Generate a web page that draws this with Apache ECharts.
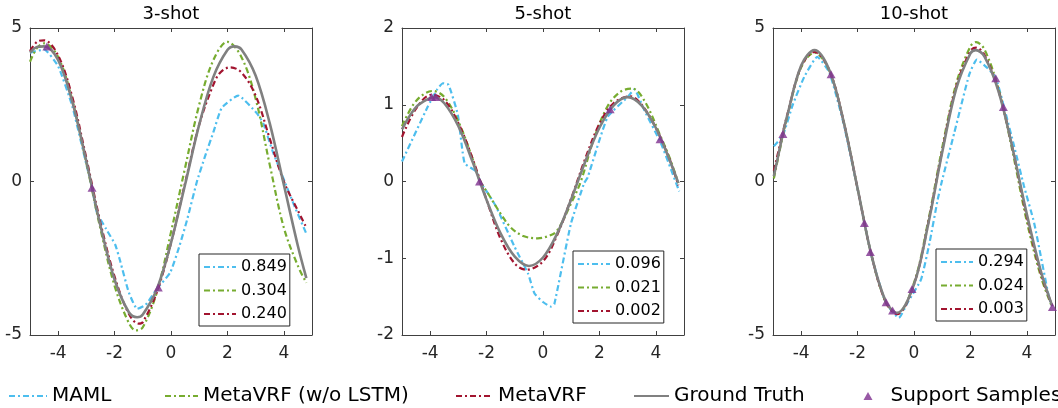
<!DOCTYPE html>
<html>
<head>
<meta charset="utf-8">
<script src="https://cdn.jsdelivr.net/npm/echarts@6/dist/echarts.min.js"></script>
<style>
html,body{margin:0;padding:0;background:#fff;}
#chart{width:1058px;height:408px;}
</style>
</head>
<body>
<div id="chart"></div>
<script>
// ---------- data ----------
const panelTitles = ['3-shot', '5-shot', '10-shot'];
const seriesNames = ['MAML', 'MetaVRF (w/o LSTM)', 'MetaVRF', 'Ground Truth', 'Support Samples'];
const xTicks = [-4, -2, 0, 2, 4];
const yTicksA = [-5, 0, 5];
const yTicksB = [-2, -1, 0, 1, 2];
const mse3 = ['0.849', '0.304', '0.240'];
const mse5 = ['0.096', '0.021', '0.002'];
const mse10 = ['0.294', '0.024', '0.003'];

// 3-shot
const s3_maml = [[-5.0,4.2],[-4.5,4.3],[-4.0,3.75],[-3.5,2.45],[-3.0,0.55],[-2.8,-0.2],[-2.63,-1.0],[-2.3,-1.55],[-1.98,-2.05],[-1.8,-2.6],[-1.5,-3.6],[-1.2,-4.15],[-0.9,-4.02],[-0.5,-3.5],[-0.03,-2.97],[0.3,-2.1],[0.57,-1.25],[0.92,0.0],[1.2,0.8],[1.5,1.6],[1.8,2.4],[2.38,2.8],[3.03,2.24],[3.27,1.9],[3.6,1.0],[4.03,0.0],[4.4,-0.85],[4.8,-1.7]];
const s3_noLstm = [[-5.0,3.9],[-4.75,4.35],[-4.5,4.5],[-4.0,4.05],[-3.5,2.65],[-3.0,0.6],[-2.5,-1.55],[-2.0,-3.4],[-1.5,-4.6],[-1.25,-4.85],[-1.0,-4.75],[-0.5,-3.6],[0,-1.65],[0.5,0.45],[1.0,2.5],[1.5,3.95],[2.0,4.55],[2.5,4.05],[3.0,2.7],[3.5,0.55],[4.0,-1.5],[4.5,-2.75],[4.8,-3.3]];
const s3_vrf = [[-5.0,4.25],[-4.75,4.55],[-4.5,4.6],[-4.0,4.1],[-3.5,2.75],[-3.0,0.75],[-2.5,-1.35],[-2.0,-3.1],[-1.5,-4.3],[-1.15,-4.63],[-1.0,-4.58],[-0.5,-3.6],[0,-2.0],[0.5,-0.05],[1.0,1.85],[1.5,3.15],[1.75,3.55],[2.1,3.72],[2.5,3.55],[3.0,2.8],[3.5,1.4],[4.0,0.0],[4.5,-0.95],[4.8,-1.5]];
const s3_gt = [[-5.0,4.2],[-4.75,4.38],[-4.5,4.4],[-4.0,3.95],[-3.5,2.6],[-3.0,0.65],[-2.5,-1.45],[-2.0,-3.2],[-1.5,-4.25],[-1.2,-4.42],[-1.0,-4.33],[-0.5,-3.5],[0,-2.0],[0.5,-0.1],[1.0,1.85],[1.5,3.4],[2.0,4.28],[2.25,4.4],[2.5,4.3],[3.0,3.45],[3.5,1.9],[4.0,-0.1],[4.5,-2.1],[4.8,-3.15]];
const s3_support = [[-4.4,4.4],[-2.8,-0.2],[-0.45,-3.45]];

// 5-shot
const s5_maml = [[-5.0,0.26],[-4.08,0.98],[-3.75,1.2],[-3.55,1.28],[-3.35,1.26],[-3.02,0.87],[-2.78,0.24],[-2.37,0.13],[-2.2,-0.02],[-1.96,-0.15],[-1.66,-0.33],[-1.01,-0.85],[-0.53,-1.2],[-0.3,-1.46],[0.0,-1.57],[0.28,-1.63],[0.4,-1.6],[0.99,-0.55],[1.46,-0.02],[1.58,0.05],[2.29,0.84],[3.0,1.1],[3.24,1.2],[3.59,0.93],[4.18,0.5],[4.83,-0.13]];
const s5_noLstm = [[-5.0,0.72],[-4.5,1.05],[-3.9,1.18],[-3.5,1.1],[-3.0,0.78],[-2.5,0.3],[-2.25,0.02],[-1.96,-0.15],[-1.5,-0.42],[-1.14,-0.6],[-0.7,-0.71],[-0.19,-0.74],[0.2,-0.71],[0.5,-0.64],[0.99,-0.29],[1.34,0.0],[1.8,0.55],[2.29,0.98],[2.75,1.17],[3.17,1.21],[3.6,1.05],[4.18,0.58],[4.5,0.3],[4.8,-0.02]];
const s5_vrf = [[-5.0,0.58],[-4.5,0.95],[-3.96,1.13],[-3.5,1.06],[-3.0,0.76],[-2.5,0.3],[-2.0,-0.24],[-1.5,-0.75],[-1.0,-1.07],[-0.6,-1.15],[0,-1.04],[0.5,-0.7],[1.0,-0.22],[1.5,0.3],[2.0,0.75],[2.5,1.02],[3.1,1.11],[3.5,1.0],[4.0,0.7],[4.5,0.28],[4.8,-0.05]];
const s5_gt = [[-5.0,0.68],[-4.5,0.97],[-4.0,1.09],[-3.85,1.1],[-3.5,1.02],[-3.0,0.72],[-2.5,0.26],[-2.0,-0.24],[-1.5,-0.68],[-1.0,-0.98],[-0.5,-1.1],[0,-0.99],[0.5,-0.68],[1.0,-0.23],[1.5,0.26],[2.0,0.7],[2.5,0.99],[3.0,1.1],[3.5,0.99],[4.0,0.7],[4.5,0.27],[4.8,-0.02]];
const s5_support = [[-3.95,1.1],[-3.8,1.1],[-2.25,0.0],[2.38,0.94],[4.15,0.55]];

// 10-shot
const s10_maml = [[-4.97,1.15],[-4.65,1.5],[-4.3,2.5],[-3.88,3.43],[-3.43,4.06],[-3.0,3.55],[-2.5,1.9],[-2.0,-0.25],[-1.5,-2.45],[-1.0,-3.95],[-0.54,-4.44],[-0.2,-3.9],[0.25,-3.19],[0.55,-2.0],[0.84,-0.59],[1.0,0.05],[1.43,1.59],[1.96,3.49],[2.23,3.97],[2.6,3.7],[2.9,3.38],[3.2,2.4],[3.55,1.15],[3.9,-0.15],[4.26,-1.35],[4.79,-3.79],[4.9,-4.06]];
const s10_noLstm = [[-4.97,0.1],[-4.65,1.5],[-4.5,2.1],[-4.0,3.72],[-3.53,4.2],[-3.0,3.6],[-2.5,1.97],[-2.0,-0.23],[-1.5,-2.43],[-1.0,-3.93],[-0.6,-4.3],[0,-3.3],[0.5,-1.3],[1.0,1.1],[1.5,3.2],[2.0,4.4],[2.2,4.54],[2.5,4.3],[3.0,3.0],[3.5,0.95],[4.0,-1.3],[4.5,-3.1],[4.9,-4.1]];
const s10_vrf = [[-4.97,0.35],[-4.65,1.6],[-4.5,2.15],[-4.0,3.75],[-3.53,4.22],[-3.0,3.62],[-2.5,1.97],[-2.0,-0.23],[-1.5,-2.43],[-1.0,-3.93],[-0.6,-4.32],[0,-3.35],[0.5,-1.38],[1.0,1.0],[1.5,3.1],[2.0,4.25],[2.2,4.36],[2.5,4.12],[3.0,2.95],[3.5,1.05],[4.0,-1.15],[4.5,-3.0],[4.9,-4.05]];
const s10_gt = [[-4.97,0.17],[-4.65,1.55],[-4.5,2.13],[-4.0,3.78],[-3.53,4.28],[-3.0,3.62],[-2.5,1.97],[-2.0,-0.23],[-1.5,-2.43],[-1.0,-3.91],[-0.6,-4.28],[0,-3.35],[0.5,-1.41],[1.0,0.95],[1.5,3.03],[2.0,4.17],[2.19,4.28],[2.5,4.07],[3.0,2.93],[3.5,1.06],[4.0,-1.06],[4.5,-2.93],[4.9,-4.05]];
const s10_support = [[-4.65,1.55],[-2.94,3.49],[-1.76,-1.35],[-1.55,-2.3],[-0.99,-3.93],[-0.76,-4.2],[-0.07,-3.5],[2.9,3.36],[3.17,2.43],[4.91,-4.09]];

// ---------- styling / layout ----------
const FONT = 'DejaVu Sans';
const AX = '#404040';
const TXT = '#262626';
const colors = ['#4DBEEE', '#77AC30', '#A2142F', '#808080', '#7E2F8E'];
const dashDot = [6, 3, 2, 3];
const gridLefts = [30, 402, 773];
const GW = 282, GT = 28, GH = 307;
const hiddenSym = {color: 'rgba(0,0,0,0)', borderColor: 'rgba(0,0,0,0)', borderWidth: 0, opacity: 0};

const panels = [
  {maml: s3_maml, noLstm: s3_noLstm, vrf: s3_vrf, gt: s3_gt, sup: s3_support, y: [-5, 5, 5], mse: mse3, box: [199, 254]},
  {maml: s5_maml, noLstm: s5_noLstm, vrf: s5_vrf, gt: s5_gt, sup: s5_support, y: [-2, 2, 1], mse: mse5, box: [573, 251]},
  {maml: s10_maml, noLstm: s10_noLstm, vrf: s10_vrf, gt: s10_gt, sup: s10_support, y: [-5, 5, 5], mse: mse10, box: [936, 249]}
];

const grid = [], xAxis = [], yAxis = [], series = [], title = [], legend = [];
const lineAxis = {show: true, onZero: false, lineStyle: {color: AX, width: 1}};
panels.forEach((p, i) => {
  grid.push({left: gridLefts[i], top: GT, width: GW, height: GH, containLabel: false});
  const tick = {show: true, inside: true, length: 4, lineStyle: {color: AX, width: 1}};
  xAxis.push({type: 'value', gridIndex: i, min: -5, max: 5, position: 'bottom',
    axisLine: lineAxis, splitLine: {show: false},
    axisTick: Object.assign({customValues: xTicks}, tick),
    axisLabel: {customValues: xTicks, fontFamily: FONT, fontSize: 17, color: TXT, margin: 10}});
  xAxis.push({type: 'value', gridIndex: i, min: -5, max: 5, position: 'top',
    axisLine: lineAxis, splitLine: {show: false},
    axisTick: Object.assign({customValues: xTicks}, tick),
    axisLabel: {show: false}});
  yAxis.push({type: 'value', gridIndex: i, min: p.y[0], max: p.y[1], interval: p.y[2], position: 'left',
    axisLine: lineAxis, splitLine: {show: false}, axisTick: tick,
    axisLabel: {fontFamily: FONT, fontSize: 17, color: TXT, margin: 8}});
  yAxis.push({type: 'value', gridIndex: i, min: p.y[0], max: p.y[1], interval: p.y[2], position: 'right',
    axisLine: lineAxis, splitLine: {show: false}, axisTick: tick,
    axisLabel: {show: false}});

  const xi = 2 * i, yi = 2 * i;
  const curves = [p.maml, p.noLstm, p.vrf];
  curves.forEach((d, k) => {
    series.push({type: 'line', name: seriesNames[k], xAxisIndex: xi, yAxisIndex: yi, data: d,
      symbol: 'none', smooth: k === 0 ? 0.15 : 0.35, z: 2 + k,
      lineStyle: {color: colors[k], width: 2.2, type: dashDot}, itemStyle: {color: colors[k]}});
  });
  series.push({type: 'line', name: seriesNames[3], xAxisIndex: xi, yAxisIndex: yi, data: p.gt,
    symbol: 'none', smooth: 0.35, z: 6,
    lineStyle: {color: colors[3], width: 2.6, type: 'solid'}, itemStyle: {color: colors[3]}});
  series.push({type: 'scatter', name: seriesNames[4], xAxisIndex: xi, yAxisIndex: yi, data: p.sup,
    symbol: 'triangle', symbolSize: [9, 8], z: 8, itemStyle: {color: colors[4]}});

  title.push({text: panelTitles[i], left: gridLefts[i] + GW / 2, top: 5, textAlign: 'center', padding: 0,
    textStyle: {fontFamily: FONT, fontSize: 18, fontWeight: 'normal', color: '#000', lineHeight: 18}});

  const mse = p.mse;
  legend.push({orient: 'vertical', left: p.box[0], top: p.box[1], padding: [5, 3, 4, 4],
    itemWidth: 32, itemHeight: 12, itemGap: 7.5, selectedMode: false,
    backgroundColor: '#fff', borderColor: '#262626', borderWidth: 1, z: 20,
    itemStyle: hiddenSym,
    data: seriesNames.slice(0, 3),
    formatter: name => mse[seriesNames.indexOf(name)],
    textStyle: {fontFamily: FONT, fontSize: 16, color: '#000', lineHeight: 16}});
});

// bottom legend, one component per entry
const bottomLeg = [
  {name: seriesNames[0], left: 8, w: 38},
  {name: seriesNames[1], left: 164, w: 33},
  {name: seriesNames[2], left: 455, w: 37},
  {name: seriesNames[3], left: 633, w: 35}
];
bottomLeg.forEach(b => {
  legend.push({orient: 'horizontal', left: b.left, top: 386, padding: 0, itemWidth: b.w, itemHeight: 14,
    selectedMode: false, data: [b.name], itemStyle: hiddenSym,
    textStyle: {fontFamily: FONT, fontSize: 20, color: '#000', lineHeight: 20}});
});
legend.push({orient: 'horizontal', left: 863.5, top: 386, padding: 0, itemWidth: 9, itemHeight: 8,
  selectedMode: false, data: [seriesNames[4]],
  textStyle: {fontFamily: FONT, fontSize: 20, color: '#000', lineHeight: 20, padding: [0, 0, 0, 13]}});

const chart = echarts.init(document.getElementById('chart'), null, {renderer: 'canvas'});
chart.setOption({
  animation: false,
  backgroundColor: '#fff',
  title, grid, xAxis, yAxis, series, legend
});
</script>
</body>
</html>
